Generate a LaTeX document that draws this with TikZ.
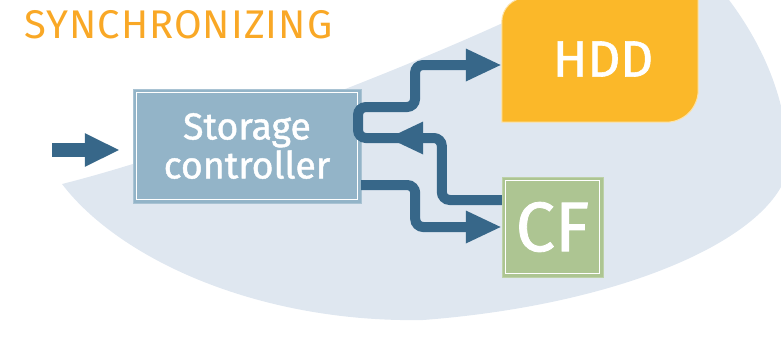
\documentclass[tikz,border=0pt]{standalone}
\usepackage{fontspec}
\setmainfont{Fira Sans}
\newfontfamily\boxfont[FakeBold=1.2]{Fira Sans}
\newfontfamily\titlefont[LetterSpace=2.5]{Fira Sans}
\usetikzlibrary{arrows.meta}
\definecolor{blobcol}{RGB}{223,231,240}
\definecolor{ctrlcol}{RGB}{147,180,200}
\definecolor{flowcol}{RGB}{55,103,137}
\definecolor{hddcol}{RGB}{251,184,41}
\definecolor{cfcol}{RGB}{173,197,146}
\definecolor{titlecol}{RGB}{249,168,38}
\begin{document}
\begin{tikzpicture}[x=1pt,y=-1pt,
  flow/.style={draw=flowcol,line width=10pt,rounded corners=8pt},
  tip/.style={-{Triangle[length=36pt,width=30pt]}},
  unit/.style={rectangle,inner sep=0pt,text=white,align=center}]
\useasboundingbox (0,0) rectangle (781,338);
\clip (0,0) rectangle (781,338);
\path[fill=blobcol] (62,184) .. controls (190,152) and (420,65) .. (560,-4)
  -- (726,-4) .. controls (760,40) and (790,100) .. (788,170)
  .. controls (770,240) and (620,305) .. (423,320)
  .. controls (260,323) and (120,260) .. (62,184) -- cycle;
\node[anchor=base west,text=titlecol,font=\titlefont\fontsize{40}{40}\selectfont] (title) at (21,38) {SYNCHRONIZING};

\node[unit,fill=ctrlcol,draw=ctrlcol!80!white,minimum width=228pt,minimum height=114pt,
  font=\boxfont\fontsize{37.5}{39}\selectfont] (ctrl) at (247,146) {Storage\\controller};
\path[draw,white,line width=1.3pt] ([shift={(4,4)}]ctrl.north west) rectangle ([shift={(-4,-4)}]ctrl.south east);

\node[unit,minimum width=196pt,minimum height=124pt] (hdd) at (600,60) {};
\path[fill=hddcol,draw=white!60!hddcol,line width=1pt] (hdd.north east)
  [rounded corners=24pt] -- (hdd.north west) [sharp corners] -- (hdd.south west)
  [rounded corners=32pt] -- (hdd.south east) [sharp corners] -- cycle;
\node[unit,font=\boxfont\fontsize{51}{51}\selectfont] (hddtext) at ([xshift=3pt,yshift=1pt]hdd) {HDD};

\node[unit,fill=cfcol,draw=cfcol!80!white,minimum width=101pt,minimum height=100pt,
  font=\boxfont\fontsize{70}{70}\selectfont] (cf) at (552.5,227) {CF};
\path[draw,white,line width=1.3pt] ([shift={(4,4)}]cf.north west) rectangle ([shift={(-4,-4)}]cf.south east);

\coordinate (src) at (52,150);
\coordinate (back) at (400,138);
\coordinate (loop) at (358,107);
\path[flow,line width=14pt,-{Triangle[length=35pt,width=31pt]},shorten >=13pt] (src) -- (ctrl.west |- src);
\path[flow,tip,shorten >=26pt] ([yshift=27pt]cf.west) -- ++(-60,0) |- ([yshift=8pt]ctrl.east);
\path[flow,tip] (back) -| (loop) -- ++(57,0) |- ([yshift=-5pt]hdd.west);
\path[flow,tip] ([yshift=-39pt]ctrl.east) -- ++(54,0) |- (cf.west);
\end{tikzpicture}
\end{document}
